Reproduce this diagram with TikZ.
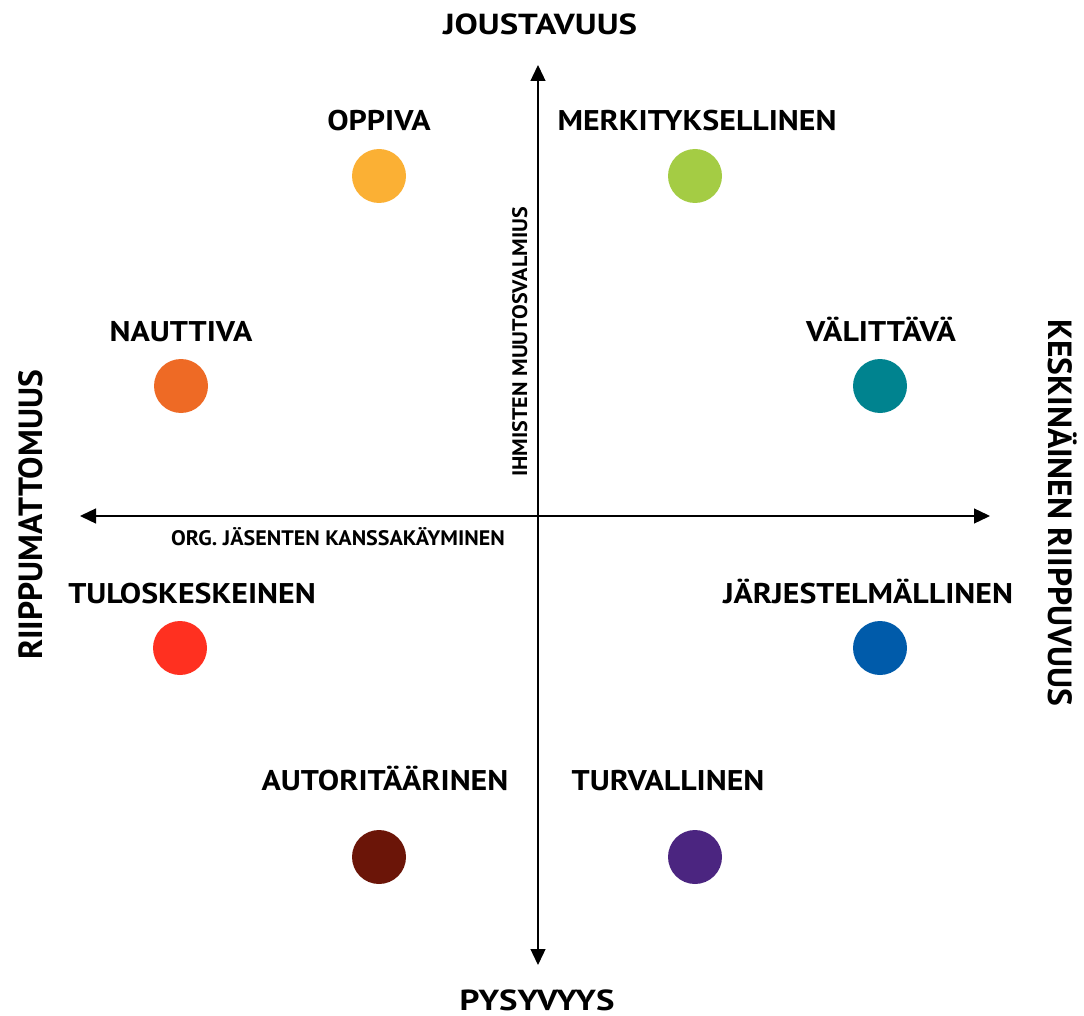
\documentclass[tikz,border=0pt]{standalone}
\usepackage{fontspec}
\setmainfont{PT Sans}
\newfontfamily\lblfont[FakeStretch=1.12]{PT Sans}
\newfontfamily\titlefont[FakeStretch=1.2]{PT Sans}
\newfontfamily\smallfont[FakeStretch=1.05]{PT Sans}
\usetikzlibrary{arrows.meta}
\definecolor{cOppiva}{HTML}{FBB034}
\definecolor{cMerk}{HTML}{A4CC44}
\definecolor{cNauttiva}{HTML}{EE6A25}
\definecolor{cValittava}{HTML}{00838F}
\definecolor{cTulos}{HTML}{FF3020}
\definecolor{cJarj}{HTML}{005BAA}
\definecolor{cAutor}{HTML}{6B1508}
\definecolor{cTurva}{HTML}{4B2580}
\begin{document}
\begin{tikzpicture}[x=1pt,y=-1pt,
  dot/.style={circle,minimum size=54pt,inner sep=0pt},
  lbl/.style={inner sep=0pt,anchor=base,font=\lblfont\bfseries\fontsize{28.5}{28.5}\selectfont},
  axtitle/.style={inner sep=0pt,anchor=base,text depth=0pt,font=\titlefont\bfseries\fontsize{29}{29}\selectfont},
  sidetitle/.style={inner sep=0pt,anchor=base,font=\bfseries\fontsize{33.5}{33.5}\selectfont},
  axsmall/.style={inner sep=0pt,anchor=base,font=\smallfont\bfseries\fontsize{21}{21}\selectfont},
  axis/.style={line width=1.3pt,-{Triangle[length=16pt,width=15pt]}}]
\useasboundingbox (0,0) rectangle (1084,1016);
% axes
\coordinate (c) at (538,516);
\coordinate (top) at (538,65);
\coordinate (bot) at (538,965);
\coordinate (lft) at (80,516);
\coordinate (rgt) at (990,516);
\draw[axis] (c) -- (top);
\draw[axis] (c) -- (bot);
\draw[axis] (c) -- (lft);
\draw[axis] (c) -- (rgt);
% axis titles
\node[axtitle] (tJ) at (540,35) {JOUSTAVUUS};
\node[axtitle] (tP) at (537,1010) {PYSYVYYS};
\node[sidetitle,rotate=90] (tR) at (42,515) {RIIPPUMATTOMUUS};
\node[sidetitle,rotate=-90] (tK) at (1048,513) {KESKINÄINEN RIIPPUVUUS};
\node[axsmall,rotate=90] (tI) at (527,342) {IHMISTEN MUUTOSVALMIUS};
\node[axsmall] (tO) at (338,545) {ORG. JÄSENTEN KANSSAKÄYMINEN};
% culture types
\node[dot,fill=cOppiva] (d1) at (379,176) {};
\node[lbl] (l1) at (379,131) {OPPIVA};
\node[dot,fill=cMerk] (d2) at (695,176) {};
\node[lbl] (l2) at (697,131) {MERKITYKSELLINEN};
\node[dot,fill=cNauttiva] (d3) at (181,386) {};
\node[lbl] (l3) at (181,341) {NAUTTIVA};
\node[dot,fill=cValittava] (d4) at (880,386) {};
\node[lbl] (l4) at (881,341) {VÄLITTÄVÄ};
\node[dot,fill=cTulos] (d5) at (180,648) {};
\node[lbl] (l5) at (192,603) {TULOSKESKEINEN};
\node[dot,fill=cJarj] (d6) at (880,648) {};
\node[lbl] (l6) at (868,603) {JÄRJESTELMÄLLINEN};
\node[dot,fill=cAutor] (d7) at (379,857) {};
\node[lbl] (l7) at (385,790) {AUTORITÄÄRINEN};
\node[dot,fill=cTurva] (d8) at (695,857) {};
\node[lbl] (l8) at (668,790) {TURVALLINEN};
\end{tikzpicture}
\end{document}
